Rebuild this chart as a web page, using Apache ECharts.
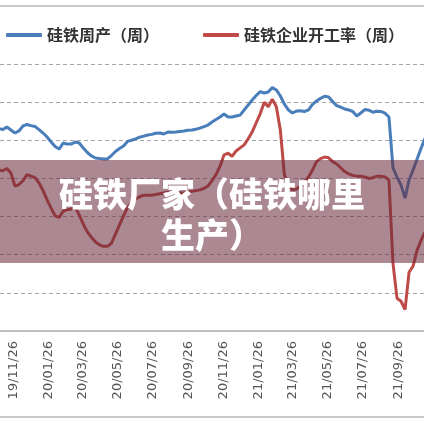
<!DOCTYPE html>
<html>
<head>
<meta charset="utf-8">
<script src="https://cdn.jsdelivr.net/npm/echarts@6/dist/echarts.min.js"></script>
<style>
  html, body { margin: 0; padding: 0; background: #fff; }
  #chart { width: 424px; height: 424px; }
</style>
</head>
<body>
<div id="chart"></div>
<script>
// weekly data, first week 2019-11-01
var startDate = [2019, 11, 1];
var tickLabels = ['19/11/26', '20/01/26', '20/03/26', '20/05/26', '20/07/26', '20/09/26',
  '20/11/26', '21/01/26', '21/03/26', '21/05/26', '21/07/26', '21/09/26'];

// 硅铁周产（周）, tonnes
var weeklyOutput = [
  106200, 105600, 107000, 105400, 103800, 104900, 107500, 108300, 107700, 107200,
  105600, 103800, 101700, 99100, 96700, 95400, 98600, 98000, 98000, 99100,
  98600, 95900, 93600, 91800, 90700, 90400, 90200, 90200, 92000, 94100,
  95700, 97000, 99400, 100000, 100700, 101600, 102200, 102800, 103100, 103700,
  103800, 103300, 104300, 104200, 104300, 104600, 104900, 105300, 105400, 105800,
  106400, 107200, 108000, 109600, 110900, 112200, 113800, 112200, 112200, 112700,
  113200, 115900, 118500, 121100, 123500, 125500, 124800, 125300, 127700, 126400,
  123200, 119000, 115900, 114300, 115300, 115500, 115100, 115900, 118800, 120600,
  122000, 123100, 122700, 120300, 118200, 117400, 116400, 115900, 115100, 112700,
  114300, 116100, 115800, 114700, 115200, 115100, 114200, 112200, 85500, 80700,
  76500, 69700, 79200, 84400, 90200, 95900, 101200
];

// 硅铁企业开工率（周）, %
var runRate = [
  41.1, 41.0, 41.3, 40.7, 39.0, 39.2, 39.7, 40.5, 40.3, 40.1,
  39.4, 38.4, 37.2, 36.1, 35.1, 34.9, 35.7, 35.9, 36.0, 36.2,
  35.2, 34.0, 33.0, 32.3, 31.7, 31.3, 31.1, 31.1, 31.5, 32.7,
  33.9, 35.1, 36.2, 36.8, 37.3, 37.6, 37.8, 37.8, 37.8, 37.9,
  38.0, 38.1, 38.2, 38.2, 38.2, 38.1, 38.1, 38.2, 38.3, 38.4,
  38.5, 38.7, 39.0, 39.7, 40.5, 41.6, 43.1, 43.3, 42.9, 43.6,
  44.0, 44.4, 45.2, 46.1, 47.3, 48.5, 50.0, 49.4, 50.4, 49.4,
  46.3, 40.5, 39.1, 38.5, 38.6, 39.0, 39.5, 40.2, 41.1, 42.2,
  42.6, 42.8, 42.7, 42.2, 41.9, 41.4, 40.9, 40.6, 40.4, 40.3,
  40.3, 40.2, 40.0, 40.1, 40.3, 40.3, 40.2, 39.8, 28.9, 24.3,
  23.9, 22.8, 27.7, 28.5, 30.6, 31.9, 33.0
];

var seriesNames = ['硅铁周产（周）', '硅铁企业开工率（周）'];
var colors = ['#4a7ebb', '#be4b48'];

function weekDate(i) {
  return new Date(startDate[0], startDate[1] - 1, startDate[2] + i * 7).getTime();
}
function labelDate(s) {
  var p = s.split('/');
  return new Date(2000 + Number(p[0]), Number(p[1]) - 1, Number(p[2])).getTime();
}
var tickValues = tickLabels.map(labelDate);

var outputData = weeklyOutput.map(function (v, i) { return [weekDate(i), v]; });
var rateData = runRate.map(function (v, i) { return [weekDate(i), v]; });

var chart = echarts.init(document.getElementById('chart'));
chart.setOption({
  animation: false,
  backgroundColor: '#fff',
  legend: {
    left: 1,
    top: 22,
    itemWidth: 36,
    itemHeight: 4,
    itemGap: 44,
    icon: 'roundRect',
    textStyle: {
      fontFamily: 'Noto Sans CJK SC',
      fontSize: 16,
      fontWeight: 'bold',
      color: '#333'
    },
    data: seriesNames
  },
  grid: { left: 0, right: 0, top: 64, bottom: 93 },
  xAxis: {
    type: 'value',
    min: new Date(2019, 10, 3).getTime(),
    max: new Date(2021, 10, 10).getTime(),
    axisLine: { lineStyle: { color: '#c0c0c0', width: 2 } },
    axisTick: { show: false },
    splitLine: { show: false },
    axisLabel: {
      customValues: tickValues,
      rotate: 90,
      margin: 10,
      fontFamily: 'DejaVu Sans',
      fontSize: 13,
      color: '#555',
      formatter: function (v) {
        var i = tickValues.indexOf(v);
        return i >= 0 ? tickLabels[i] : '';
      }
    }
  },
  yAxis: [
    {
      type: 'value',
      min: 0,
      max: 140000,
      interval: 20000,
      axisLabel: { show: false },
      axisLine: { show: false },
      axisTick: { show: false },
      splitLine: { lineStyle: { color: '#a6a6a6', type: [4, 3], width: 1 } }
    },
    {
      type: 'value',
      min: 20,
      max: 55,
      interval: 5,
      axisLabel: { show: false },
      axisLine: { show: false },
      axisTick: { show: false },
      splitLine: { show: false }
    }
  ],
  series: [
    {
      name: seriesNames[0],
      type: 'line',
      yAxisIndex: 0,
      data: outputData,
      showSymbol: false,
      color: colors[0],
      lineStyle: { width: 3, color: colors[0] }
    },
    {
      name: seriesNames[1],
      type: 'line',
      yAxisIndex: 1,
      data: rateData,
      showSymbol: false,
      color: colors[1],
      lineStyle: { width: 3, color: colors[1] }
    }
  ],
  graphic: [
    {
      type: 'line',
      shape: { x1: 0, y1: 6, x2: 424, y2: 6 },
      style: { stroke: '#c8c8c8', lineWidth: 2 }
    },
    {
      type: 'line',
      shape: { x1: 0, y1: 417, x2: 424, y2: 417 },
      style: { stroke: '#c8c8c8', lineWidth: 2 }
    },
    {
      type: 'rect',
      z: 100,
      shape: { x: 0, y: 160, width: 424, height: 103 },
      style: { fill: 'rgba(104,40,57,0.55)' }
    },
    {
      type: 'text',
      z: 101,
      x: 212,
      y: 174,
      style: {
        text: '硅铁厂家（硅铁哪里\n生产）',
        fill: '#fff',
        font: '900 34px "Noto Sans CJK SC"',
        lineHeight: 41,
        align: 'center',
        verticalAlign: 'top'
      }
    }
  ]
});
</script>
</body>
</html>
